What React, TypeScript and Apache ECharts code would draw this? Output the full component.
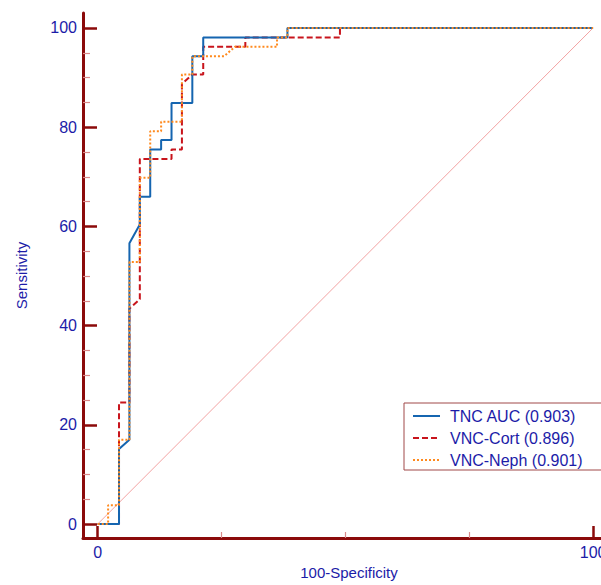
import React, { useEffect, useRef } from "react";
import * as echarts from "echarts";

const seriesNames = ["TNC AUC (0.903)", "VNC-Cort (0.896)", "VNC-Neph (0.901)"];

const tncX = [0, 4.3, 4.3, 6.4, 6.4, 8.5, 8.5, 10.6, 10.6, 12.8, 12.8, 14.9, 14.9, 19.1, 19.1, 21.3, 21.3, 38.3, 38.3, 100];
const tncY = [0, 0, 15.1, 17.0, 56.6, 60.4, 66.0, 66.0, 75.5, 75.5, 77.4, 77.4, 84.9, 84.9, 94.3, 94.3, 98.1, 98.1, 100, 100];

const cortX = [0, 4.3, 4.3, 6.4, 6.4, 8.5, 8.5, 14.9, 14.9, 17.0, 17.0, 19.1, 21.3, 21.3, 29.8, 29.8, 48.9, 48.9, 100];
const cortY = [0, 0, 24.5, 24.5, 43.4, 45.3, 73.6, 73.6, 75.5, 75.5, 88.7, 90.6, 90.6, 96.2, 96.2, 98.1, 98.1, 100, 100];

const nephX = [0, 2.1, 2.1, 4.3, 4.3, 6.4, 6.4, 8.5, 8.5, 10.6, 10.6, 12.8, 12.8, 17.0, 17.0, 19.1, 19.1, 25.5, 27.7, 36.2, 36.2, 38.3, 38.3, 100];
const nephY = [0, 0, 3.8, 3.8, 17.0, 17.0, 52.8, 52.8, 69.8, 69.8, 79.2, 79.2, 81.1, 81.1, 90.6, 90.6, 94.3, 94.3, 96.2, 96.2, 98.1, 98.1, 100, 100];

const refX = [0, 100];
const refY = [0, 100];

const yMajor = [0, 20, 40, 60, 80, 100];
const yMinor = [5, 10, 15, 25, 30, 35, 45, 50, 55, 65, 70, 75, 85, 90, 95];
const xMajor = [0, 100];
const xMinor = [25, 50, 75];

const zip = (xs: number[], ys: number[]) => xs.map((x, i) => [x, ys[i]]);

const AXIS = "#8b0a0a";
const MINOR = "#d98a8a";
const LABEL = "#1c1ca8";
const FONT = "'Liberation Sans', Arial, sans-serif";

export default function App() {
  const ref = useRef<HTMLDivElement>(null);
  useEffect(() => {
    if (!ref.current) return;
    const chart = echarts.init(ref.current, null, { renderer: "svg" });
    const xMin = -2.97;
    const xMax = 101.6;
    const yMin = -2.82;
    const yMax = 103.02;
    chart.setOption({
      animation: false,
      backgroundColor: "#ffffff",
      grid: { left: 83, top: 13, right: 0, height: 525, containLabel: false, outerBoundsMode: "none" },
      legend: {
        orient: "vertical",
        left: 404,
        top: 403,
        data: seriesNames,
        padding: [5, 40, 2, 8],
        itemGap: 6,
        itemWidth: 27,
        itemHeight: 14,
        itemStyle: { opacity: 0 },
        borderColor: "#a04848",
        borderWidth: 1,
        textStyle: { color: LABEL, fontSize: 16, fontFamily: FONT, lineHeight: 16, padding: [0, 0, 0, 5] },
      },
      xAxis: [
        {
          type: "value",
          position: "bottom",
          min: xMin,
          max: xMax,
          name: "100-Specificity",
          nameLocation: "middle",
          nameGap: 21,
          nameTextStyle: { color: LABEL, fontSize: 15, fontFamily: FONT, padding: [0, 0, 0, 14] },
          axisLine: { show: true, onZero: false, lineStyle: { color: AXIS, width: 3 } },
          axisTick: { show: true, inside: true, length: 12, customValues: xMajor, lineStyle: { color: AXIS, width: 2.5 } },
          axisLabel: { show: true, customValues: xMajor, color: LABEL, fontSize: 16, fontFamily: FONT, margin: 6 },
          splitLine: { show: false },
        },
        {
          type: "value",
          position: "bottom",
          min: xMin,
          max: xMax,
          axisLine: { show: false, onZero: false },
          axisTick: { show: true, inside: true, length: 6, customValues: xMinor, lineStyle: { color: MINOR, width: 1.2 } },
          axisLabel: { show: false },
          splitLine: { show: false },
        },
      ],
      yAxis: [
        {
          type: "value",
          position: "left",
          min: yMin,
          max: yMax,
          name: "Sensitivity",
          nameLocation: "middle",
          nameGap: 54,
          nameTextStyle: { color: LABEL, fontSize: 15, fontFamily: FONT },
          axisLine: { show: true, onZero: false, lineStyle: { color: AXIS, width: 3 } },
          axisTick: { show: true, inside: true, length: 14, customValues: yMajor, lineStyle: { color: AXIS, width: 2.5 } },
          axisLabel: { show: true, customValues: yMajor, color: LABEL, fontSize: 16, fontFamily: FONT, margin: 6 },
          splitLine: { show: false },
        },
        {
          type: "value",
          position: "left",
          min: yMin,
          max: yMax,
          axisLine: { show: false, onZero: false },
          axisTick: { show: true, inside: true, length: 7, customValues: yMinor, lineStyle: { color: MINOR, width: 1.2 } },
          axisLabel: { show: false },
          splitLine: { show: false },
        },
      ],
      series: [
        {
          name: "ref",
          type: "line",
          data: zip(refX, refY),
          symbol: "none",
          silent: true,
          lineStyle: { color: "#f2a2a2", width: 1 },
        },
        {
          name: seriesNames[1],
          type: "line",
          data: zip(cortX, cortY),
          symbol: "none",
          color: "#c8141c",
          lineStyle: { color: "#c8141c", width: 2, type: [6, 3] },
        },
        {
          name: seriesNames[0],
          type: "line",
          data: zip(tncX, tncY),
          symbol: "none",
          color: "#1565b0",
          lineStyle: { color: "#1565b0", width: 2 },
        },
        {
          name: seriesNames[2],
          type: "line",
          data: zip(nephX, nephY),
          symbol: "none",
          color: "#ff8a1e",
          lineStyle: { color: "#ff8a1e", width: 2, type: [2, 2] },
        },
      ],
    });
    return () => chart.dispose();
  }, []);
  return <div ref={ref} style={{ position: "fixed", left: 0, top: 0, width: 601, height: 585, background: "#fff" }} />;
}
